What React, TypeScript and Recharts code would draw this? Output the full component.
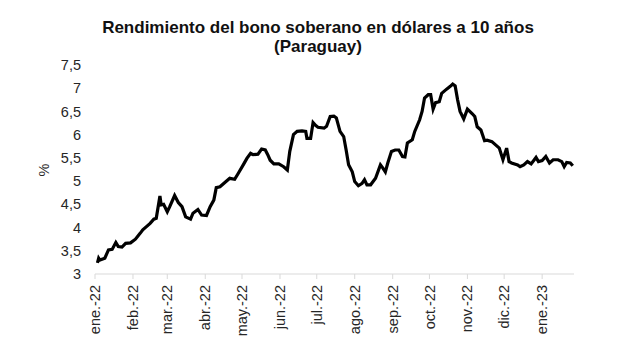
import { LineChart, Line, XAxis, YAxis } from "recharts";

const dates = [
  "2022-01-03", "2022-01-04", "2022-01-05", "2022-01-09", "2022-01-12", "2022-01-15",
  "2022-01-18", "2022-01-20", "2022-01-23", "2022-01-26", "2022-01-30", "2022-02-03",
  "2022-02-07", "2022-02-09", "2022-02-12", "2022-02-15", "2022-02-18", "2022-02-20",
  "2022-02-23", "2022-02-24", "2022-02-26", "2022-03-01", "2022-03-03", "2022-03-07",
  "2022-03-10", "2022-03-13", "2022-03-16", "2022-03-20", "2022-03-22", "2022-03-26",
  "2022-03-29", "2022-04-02", "2022-04-05", "2022-04-08", "2022-04-10", "2022-04-13",
  "2022-04-17", "2022-04-21", "2022-04-25", "2022-04-28", "2022-05-02", "2022-05-05",
  "2022-05-08", "2022-05-10", "2022-05-14", "2022-05-17", "2022-05-20", "2022-05-22",
  "2022-05-24", "2022-05-27", "2022-05-31", "2022-06-04", "2022-06-07", "2022-06-09",
  "2022-06-12", "2022-06-15", "2022-06-19", "2022-06-22", "2022-06-23", "2022-06-26",
  "2022-06-28", "2022-06-30", "2022-07-02", "2022-07-07", "2022-07-09", "2022-07-12",
  "2022-07-15", "2022-07-17", "2022-07-20", "2022-07-23", "2022-07-25", "2022-07-27",
  "2022-07-30", "2022-08-01", "2022-08-04", "2022-08-07", "2022-08-09", "2022-08-11",
  "2022-08-14", "2022-08-18", "2022-08-22", "2022-08-24", "2022-08-26", "2022-08-28",
  "2022-08-31", "2022-09-03", "2022-09-06", "2022-09-09", "2022-09-11", "2022-09-13",
  "2022-09-17", "2022-09-19", "2022-09-23", "2022-09-25", "2022-09-27", "2022-09-30",
  "2022-10-02", "2022-10-04", "2022-10-06", "2022-10-09", "2022-10-11", "2022-10-15",
  "2022-10-18", "2022-10-20", "2022-10-22", "2022-10-24", "2022-10-26", "2022-10-29",
  "2022-11-01", "2022-11-05", "2022-11-07", "2022-11-09", "2022-11-12", "2022-11-15",
  "2022-11-17", "2022-11-21", "2022-11-24", "2022-11-27", "2022-11-30", "2022-12-03",
  "2022-12-05", "2022-12-07", "2022-12-12", "2022-12-14", "2022-12-17", "2022-12-20",
  "2022-12-23", "2022-12-27", "2022-12-29", "2023-01-01", "2023-01-04", "2023-01-07",
  "2023-01-10", "2023-01-14", "2023-01-17", "2023-01-19", "2023-01-21", "2023-01-24",
  "2023-01-26",
];

const yields = [
  3.24, 3.34, 3.3, 3.34, 3.52, 3.53,
  3.68, 3.59, 3.58, 3.66, 3.67, 3.75,
  3.88, 3.95, 4.02, 4.09, 4.18, 4.2,
  4.68, 4.49, 4.5, 4.34, 4.45, 4.69,
  4.54, 4.45, 4.23, 4.18, 4.31, 4.39,
  4.27, 4.26, 4.45, 4.59, 4.86, 4.88,
  4.97, 5.06, 5.04, 5.17, 5.35, 5.49,
  5.6, 5.57, 5.58, 5.69, 5.67, 5.57,
  5.45, 5.37, 5.37, 5.31, 5.24, 5.64,
  6.0, 6.07, 6.08, 6.07, 5.92, 5.92,
  6.26, 6.2, 6.16, 6.14, 6.18, 6.39,
  6.4, 6.36, 6.07, 5.96, 5.67, 5.35,
  5.2, 4.99, 4.9, 4.95, 5.03, 4.92,
  4.92, 5.06, 5.35, 5.28, 5.2, 5.39,
  5.64, 5.67, 5.67, 5.53, 5.52, 5.82,
  5.89, 6.07, 6.32, 6.5, 6.79, 6.86,
  6.86, 6.55, 6.69, 6.71, 6.89, 6.98,
  7.04, 7.09, 7.05, 6.75, 6.5, 6.34,
  6.55, 6.45, 6.39, 6.17, 6.1, 5.87,
  5.88, 5.85, 5.78, 5.71, 5.46, 5.71,
  5.42, 5.39, 5.35, 5.31, 5.35, 5.42,
  5.37, 5.51, 5.42, 5.44, 5.53, 5.39,
  5.46, 5.46, 5.42, 5.31, 5.4, 5.39,
  5.33,
];

const monthStarts = [
  "2022-01-01", "2022-02-01", "2022-03-01", "2022-04-01", "2022-05-01", "2022-06-01",
  "2022-07-01", "2022-08-01", "2022-09-01", "2022-10-01", "2022-11-01", "2022-12-01",
  "2023-01-01",
];
const monthLabels = [
  "ene.-22", "feb.-22", "mar.-22", "abr.-22", "may.-22", "jun.-22", "jul.-22",
  "ago.-22", "sep.-22", "oct.-22", "nov.-22", "dic.-22", "ene.-23",
];

const yTicks = [3, 3.5, 4, 4.5, 5, 5.5, 6, 6.5, 7, 7.5];

const FONT = "Liberation Sans, Arial, sans-serif";

// days since 2022-01-01
const dayOf = (s: string) => {
  const [y, m, d] = s.split("-").map(Number);
  return (Date.UTC(y, m - 1, d) - Date.UTC(2022, 0, 1)) / 86400000;
};

const data = dates.map((d, i) => ({ day: dayOf(d), value: yields[i] }));
const xTicks = monthStarts.map(dayOf);

const MonthTick = ({ x, y, payload }: any) => {
  const idx = xTicks.indexOf(payload.value);
  return (
    <g transform={`translate(${x},${y})`}>
      <text
        transform="rotate(-90)"
        x={-4}
        dy="0.35em"
        textAnchor="end"
        fill="#262626"
        fontSize={14.5}
        fontFamily={FONT}
      >
        {monthLabels[idx]}
      </text>
    </g>
  );
};

export default function App() {
  return (
    <div style={{ position: "absolute", left: 0, top: 0, width: 617, height: 355, background: "#fff" }}>
      <div
        style={{
          position: "absolute",
          left: 0,
          top: 18,
          width: 636,
          textAlign: "center",
          fontFamily: FONT,
          fontWeight: "bold",
          fontSize: 17,
          lineHeight: "19px",
          color: "#111",
        }}
      >
        Rendimiento del bono soberano en dólares a 10 años
        <br />
        (Paraguay)
      </div>
      <div
        style={{
          position: "absolute",
          left: 38,
          top: 162,
          transform: "rotate(-90deg)",
          fontFamily: FONT,
          fontSize: 14.5,
          color: "#262626",
        }}
      >
        %
      </div>
      <LineChart
        width={617}
        height={355}
        data={data}
        margin={{ top: 65, right: 43, left: 0, bottom: 0 }}
      >
        <XAxis
          dataKey="day"
          type="number"
          domain={[0, 391]}
          ticks={xTicks}
          interval={0}
          height={81}
          axisLine={{ stroke: "#d9d9d9", strokeWidth: 1 }}
          tickLine={{ stroke: "#d9d9d9" }}
          tickSize={5}
          tick={<MonthTick />}
        />
        <YAxis
          type="number"
          domain={[3, 7.5]}
          ticks={yTicks}
          interval={0}
          width={95}
          axisLine={false}
          tickLine={false}
          tickSize={0}
          tickMargin={14}
          tick={{ fill: "#262626", fontSize: 14.5, fontFamily: FONT }}
          tickFormatter={(v) => String(v).replace(".", ",")}
        />
        <Line
          type="linear"
          dataKey="value"
          stroke="#000"
          strokeWidth={3.2}
          dot={false}
          isAnimationActive={false}
        />
      </LineChart>
    </div>
  );
}
